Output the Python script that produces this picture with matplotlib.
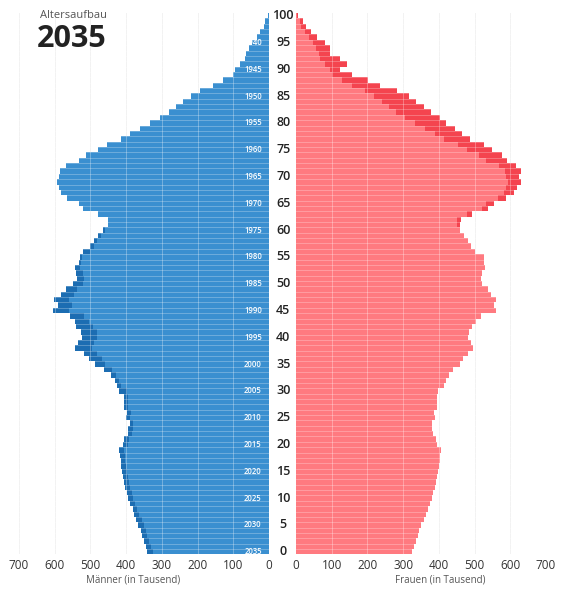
import matplotlib.pyplot as plt

plt.rcParams['font.family'] = ['Open Sans', 'DejaVu Sans']

# Bevölkerung 2035 nach Alter (in Tausend), Alter 0 bis 100
ages = list(range(0, 101))
men = [341, 344, 350, 355, 359, 366, 372, 378, 382, 389,
       394, 399, 404, 407, 410, 413, 414, 415, 417, 421,
       410, 407, 394, 396, 389, 401, 398, 407, 406, 407,
       419, 426, 432, 443, 461, 487, 505, 519, 542, 535,
       523, 526, 540, 543, 558, 605, 591, 602, 583, 568,
       549, 537, 540, 543, 531, 528, 521, 500, 491, 480,
       466, 450, 450, 480, 521, 533, 566, 583, 589, 594,
       589, 584, 568, 533, 512, 480, 454, 415, 389, 361,
       333, 306, 281, 260, 241, 218, 193, 156, 130, 100,
       95, 80, 68, 65, 56, 47, 35, 26, 15, 10,
       3]
women = [326, 331, 335, 341, 344, 351, 357, 363, 369, 374,
         380, 384, 389, 393, 395, 398, 400, 402, 403, 407,
         395, 391, 383, 382, 380, 388, 386, 396, 395, 394,
         398, 414, 419, 428, 439, 460, 468, 482, 495, 491,
         482, 483, 493, 504, 519, 559, 553, 559, 546, 537,
         522, 519, 520, 530, 527, 525, 500, 491, 482, 470,
         458, 460, 463, 494, 537, 553, 587, 609, 620, 630,
         624, 629, 617, 591, 576, 548, 525, 486, 465, 444,
         420, 402, 377, 358, 335, 315, 282, 235, 201, 157,
         122, 143, 122, 96, 94, 81, 60, 41, 28, 19,
         5]
age_labels = list(range(0, 101, 5))
birth_years = [2035 - a for a in range(0, 96, 5)]
xticks = list(range(0, 701, 100))

men_light, men_dark = '#3a8fd0', '#1c6db2'
women_light, women_dark = '#ff7a80', '#f4444f'

fig = plt.figure(figsize=(5.81, 6.0), dpi=100)
bottom = 1 - 554.4 / 600
height = 541.4 / 600
ax_m = fig.add_axes([19 / 581, bottom, 250 / 581, height])
ax_w = fig.add_axes([296 / 581, bottom, 250 / 581, height])

common = [min(m, w) for m, w in zip(men, women)]

# Überschuss dunkel, gemeinsamer Teil hell
ax_m.barh(ages, men, height=1.0, color=men_dark, lw=0, zorder=2)
ax_m.barh(ages, common, height=1.0, color=men_light, lw=0, zorder=2)
ax_w.barh(ages, women, height=1.0, color=women_dark, lw=0, zorder=2)
ax_w.barh(ages, common, height=1.0, color=women_light, lw=0, zorder=2)

for ax in (ax_m, ax_w):
    ax.set_ylim(-0.5, 100.5)
    ax.set_xticks(xticks)
    ax.set_yticks([])
    ax.tick_params(axis='x', length=0, pad=3, labelsize=8.5, labelcolor='#333333')
    for s in ax.spines.values():
        s.set_visible(False)
    for v in xticks[1:]:
        ax.axvline(v, color='#ededed', lw=0.7, zorder=0)
        ax.axvline(v, color='white', alpha=0.3, lw=0.7, zorder=3)
    # feine helle Trennlinien zwischen den Jahrgängen
    for a in ages[:-1]:
        ax.axhline(a + 0.5, color='white', alpha=0.3, lw=0.6, zorder=3)

ax_m.set_xlim(700, 0)
ax_w.set_xlim(0, 700)

for a in age_labels:
    ax_w.text(-36, a, str(a), ha='center', va='center', fontsize=9,
              fontweight='semibold', color='#222222', clip_on=False)

for y in birth_years:
    ax_m.text(45, 2035 - y, str(y), ha='center', va='center', fontsize=5.5,
              fontweight='semibold', color='white', zorder=4)

fig.text(133 / 581, 1 - 580 / 600, 'Männer (in Tausend)', ha='center',
         va='center', fontsize=7, color='#555555')
fig.text(440 / 581, 1 - 580 / 600, 'Frauen (in Tausend)', ha='center',
         va='center', fontsize=7, color='#555555')

fig.text(40 / 581, 1 - 15 / 600, 'Altersaufbau', ha='left', va='center',
         fontsize=8, color='#555555')
fig.text(37 / 581, 1 - 39 / 600, '2035', ha='left', va='center',
         fontsize=22, fontweight='bold', color='#222222')

fig.savefig('out.png', dpi=100)
